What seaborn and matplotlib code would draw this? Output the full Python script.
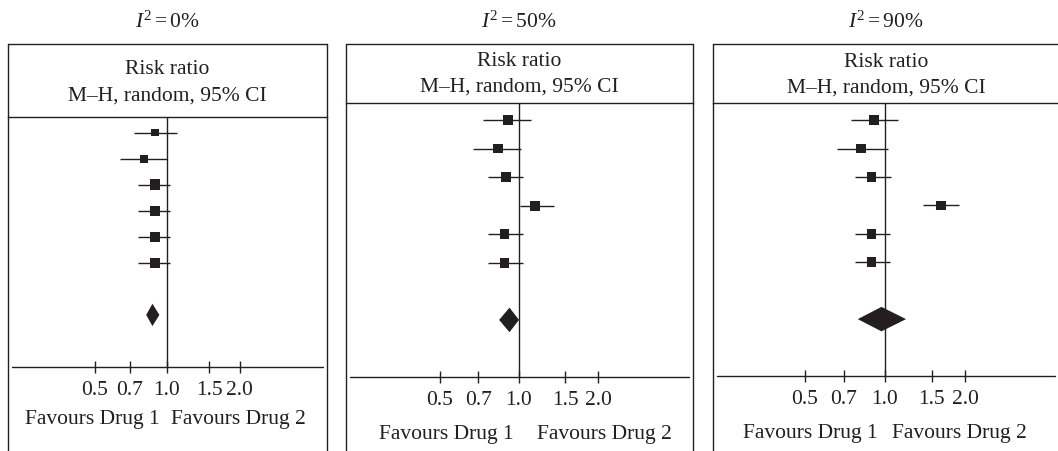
import numpy as np
import pandas as pd
import matplotlib
matplotlib.use("Agg")
import matplotlib.pyplot as plt
from matplotlib.lines import Line2D
import seaborn as sns

sns.set_theme(style="white")
plt.rcParams["font.family"] = ["Liberation Serif", "DejaVu Serif"]
plt.rcParams["mathtext.fontset"] = "custom"
plt.rcParams["mathtext.rm"] = "Liberation Serif"
plt.rcParams["mathtext.it"] = "Liberation Serif:italic"

INK = "#231f20"

# ---- data: risk ratios with 95% CI for six studies and the pooled estimate ----
panel_titles = [r"$I^2 = 0\%$", r"$I^2 = 50\%$", r"$I^2 = 90\%$"]

rr_0 = [0.89, 0.80, 0.89, 0.89, 0.89, 0.89]
lo_0 = [0.73, 0.64, 0.76, 0.76, 0.76, 0.76]
hi_0 = [1.10, 1.00, 1.03, 1.03, 1.03, 1.03]
wt_0 = [10.6, 10.6, 19.7, 19.7, 19.7, 19.7]
pooled_0 = (0.87, 0.82, 0.93)

rr_50 = [0.91, 0.83, 0.89, 1.15, 0.88, 0.88]
lo_50 = [0.73, 0.67, 0.76, 1.01, 0.76, 0.76]
hi_50 = [1.11, 1.02, 1.04, 1.36, 1.04, 1.04]
wt_50 = [16.7, 16.7, 16.7, 16.7, 16.7, 16.7]
pooled_50 = (0.92, 0.84, 1.00)

rr_90 = [0.91, 0.81, 0.89, 1.62, 0.89, 0.89]
lo_90 = [0.745, 0.66, 0.77, 1.39, 0.77, 0.77]
hi_90 = [1.12, 1.03, 1.05, 1.90, 1.04, 1.04]
wt_90 = [16.7, 16.7, 16.7, 16.7, 16.7, 16.7]
pooled_90 = (0.97, 0.79, 1.20)

tick_values = [0.5, 0.7, 1.0, 1.5, 2.0]
tick_labels = ["0.5", "0.7", "1.0", "1.5", "2.0"]
header_lines = ["Risk ratio", "M\u2013H, random, 95% CI"]
favours = ["Favours Drug 1", "Favours Drug 2"]

# ---- layout (pixel units on a 1058 x 452 canvas) ----
W, H = 1058, 452
fig = plt.figure(figsize=(W / 100, H / 100), dpi=100)
fig.patch.set_facecolor("white")

layouts = [
    # box left/right, header divider y, axis y, x of RR=1, px per doubling,
    # header text ys, favours y, favours xs, centre x of titles
    dict(L=8, R=327, div=118, axy=368, x1=167, p=72.5,
         head=(70, 96), fav_y=420, fav_x=(92, 238), cx=167),
    dict(L=346, R=693, div=104, axy=378, x1=519, p=79.0,
         head=(62, 87), fav_y=435, fav_x=(446, 604), cx=519),
    dict(L=713, R=1059, div=104, axy=377, x1=885, p=80.0,
         head=(63, 88), fav_y=434, fav_x=(810, 959), cx=886),
]
BOX_TOP = 45
TITLE_Y = 22

panels = [
    (rr_0, lo_0, hi_0, wt_0, pooled_0),
    (rr_50, lo_50, hi_50, wt_50, pooled_50),
    (rr_90, lo_90, hi_90, wt_90, pooled_90),
]

FS = 15.5
YLIM = (9.0, -0.6)
POOLED_ROW = 7
DIAMOND_HALF = 0.43


def fx(x):
    return x / W


def fy(y):
    return 1 - y / H


for title, lay, (rr, lo, hi, wt, pooled) in zip(panel_titles, layouts, panels):
    L, R = lay["L"], lay["R"]
    ax = fig.add_axes([fx(L), fy(lay["axy"]), (R - L) / W, (lay["axy"] - lay["div"]) / H])
    ax.set_xscale("log")
    ax.set_xlim(2 ** ((L - lay["x1"]) / lay["p"]), 2 ** ((R - lay["x1"]) / lay["p"]))
    ax.set_ylim(*YLIM)
    ax.set_facecolor("none")

    rows = np.arange(len(rr))
    df = pd.DataFrame({"rr": rr, "lo": lo, "hi": hi, "w": wt, "row": rows})

    # confidence intervals
    ax.hlines(df["row"], df["lo"], df["hi"], color=INK, lw=1.0, zorder=2)
    # point estimates, square area proportional to study weight
    sns.scatterplot(data=df, x="rr", y="row", marker="s", s=df["w"] * 2.9,
                    color=INK, linewidth=0, legend=False, ax=ax, zorder=3)
    # pooled estimate diamond
    est, plo, phi = pooled
    ax.fill([plo, est, phi, est],
            [POOLED_ROW, POOLED_ROW - DIAMOND_HALF, POOLED_ROW, POOLED_ROW + DIAMOND_HALF],
            color=INK, lw=0, zorder=3)

    # line of no effect
    ax.axvline(1.0, color=INK, lw=1.0, zorder=1)

    # horizontal scale line
    ax.axhline(YLIM[0], xmin=0.012, xmax=0.988, color=INK, lw=1.0, clip_on=False)

    for side in ["left", "right", "bottom"]:
        ax.spines[side].set_visible(False)
    ax.spines["top"].set_color(INK)
    ax.spines["top"].set_linewidth(1.0)

    ax.set_xticks(tick_values)
    ax.set_xticklabels(tick_labels)
    ax.xaxis.set_minor_locator(matplotlib.ticker.NullLocator())
    ax.tick_params(axis="x", direction="inout", length=8.6, width=1.0, color=INK,
                   labelsize=FS, labelcolor=INK, pad=5, bottom=True)
    ax.set_yticks([])
    ax.set_xlabel("")
    ax.set_ylabel("")
    ax.grid(False)

    # surrounding box
    for xs, ys in [([L, L], [BOX_TOP, H + 5]), ([R, R], [BOX_TOP, H + 5]), ([L, R], [BOX_TOP, BOX_TOP])]:
        fig.add_artist(Line2D([fx(v) for v in xs], [fy(v) for v in ys],
                              color=INK, lw=1.0, transform=fig.transFigure))

    cx = lay["cx"]
    fig.text(fx(cx), fy(TITLE_Y), title, ha="center", va="center", fontsize=FS, color=INK)
    for txt, yy in zip(header_lines, lay["head"]):
        fig.text(fx(cx), fy(yy), txt, ha="center", va="center", fontsize=FS, color=INK)
    for txt, xx in zip(favours, lay["fav_x"]):
        fig.text(fx(xx), fy(lay["fav_y"]), txt, ha="center", va="center", fontsize=FS, color=INK)

fig.savefig("out.png", dpi=100, facecolor="white")
